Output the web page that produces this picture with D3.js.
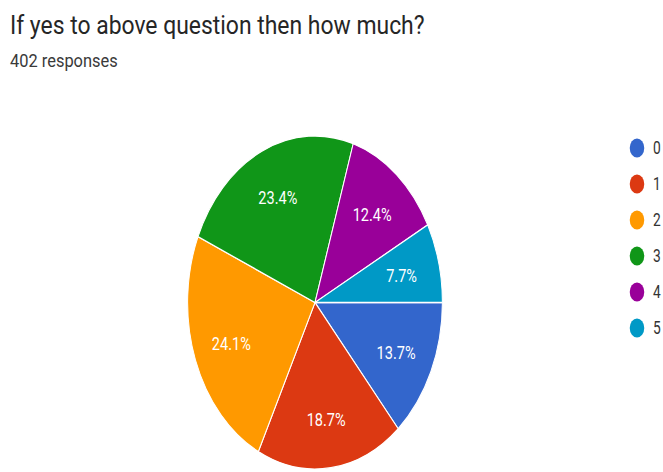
<!DOCTYPE html>
<html>
<head>
<meta charset="utf-8">
<script src="https://cdn.jsdelivr.net/npm/d3@7"></script>
<style>
  html, body { margin: 0; padding: 0; background: #fff; }
  svg { display: block; }
  text { font-family: Roboto, "Noto Sans", Arial, sans-serif; }
</style>
</head>
<body>
<svg id="chart" width="663" height="472"></svg>
<script>
// Survey answers and their response counts (402 responses in total)
const categories = ["0", "1", "2", "3", "4", "5"];
const counts = [55, 75, 97, 94, 50, 31];
const percentLabels = ["13.7%", "18.7%", "24.1%", "23.4%", "12.4%", "7.7%"];
const colors = ["#3366cc", "#dc3912", "#ff9900", "#109618", "#990099", "#0099c6"];
const titleText = "If yes to above question then how much?";
const subtitleText = "402 responses";

const W = 663, H = 472;
// The chart is laid out in a wider coordinate space and squeezed horizontally.
const sx = 0.765;
const svg = d3.select("#chart");
const root = svg.append("g").attr("transform", `scale(${sx},1)`);

root.append("text")
  .attr("x", 13).attr("y", 34)
  .attr("font-size", 26)
  .attr("fill", "#262626")
  .attr("textLength", 542).attr("lengthAdjust", "spacingAndGlyphs")
  .text(titleText);

root.append("text")
  .attr("x", 13).attr("y", 67)
  .attr("font-size", 19)
  .attr("fill", "#3a3a3a")
  .attr("textLength", 141).attr("lengthAdjust", "spacingAndGlyphs")
  .text(subtitleText);

// Pie
const cx = 315 / sx, cy = 302.5, R = 166.5;
const pie = d3.pie()
  .value(d => d)
  .sort(null)
  .startAngle(Math.PI / 2)
  .endAngle(Math.PI / 2 + 2 * Math.PI);
const arcs = pie(counts);
const arc = d3.arc().innerRadius(0).outerRadius(R);
const labelArc = d3.arc().innerRadius(R * 0.7).outerRadius(R * 0.7);

const pg = root.append("g").attr("transform", `translate(${cx},${cy})`);
pg.selectAll("path.slice")
  .data(arcs)
  .join("path")
  .attr("class", "slice")
  .attr("d", arc)
  .attr("fill", (d, i) => colors[i])
  .attr("stroke", "#ffffff")
  .attr("stroke-width", 1.3);

pg.selectAll("text.pct")
  .data(arcs)
  .join("text")
  .attr("class", "pct")
  .attr("transform", d => `translate(${labelArc.centroid(d)})`)
  .attr("text-anchor", "middle")
  .attr("dy", "0.4em")
  .attr("font-size", 19)
  .attr("fill", "#ffffff")
  .text((d, i) => percentLabels[i]);

// Legend
const legendY = d3.scalePoint().domain(categories).range([148, 328]);
const lg = root.append("g");
const items = lg.selectAll("g.item")
  .data(categories)
  .join("g")
  .attr("class", "item")
  .attr("transform", d => `translate(${637 / sx},${legendY(d)})`);
items.append("circle")
  .attr("r", 9.5)
  .attr("fill", (d, i) => colors[i]);
items.append("text")
  .attr("x", 21)
  .attr("dy", "0.36em")
  .attr("font-size", 18)
  .attr("fill", "#333")
  .text(d => d);
</script>
</body>
</html>
